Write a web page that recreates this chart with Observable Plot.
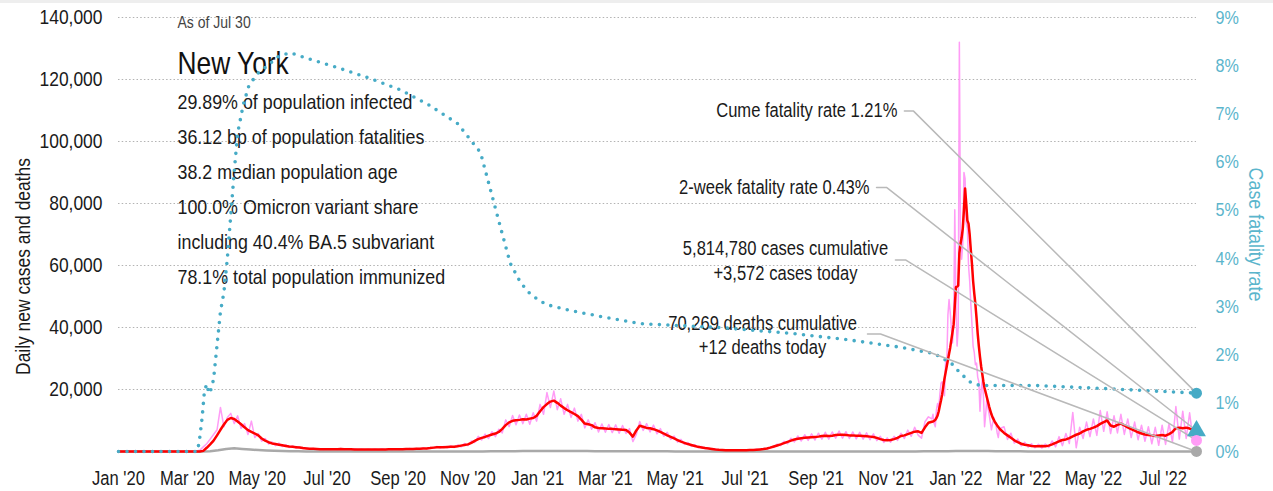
<!DOCTYPE html>
<html><head><meta charset="utf-8">
<script src="https://cdn.jsdelivr.net/npm/d3@7"></script>
<script src="https://cdn.jsdelivr.net/npm/@observablehq/plot@0.6"></script>
<style>
html,body{margin:0;padding:0;background:#fff;}
#band{height:3px;background:#eeeeee;}
#chart svg{display:block;}
</style></head><body>
<div id="band"></div>
<div id="chart"></div>
<script>
// ---------- DATA ----------
const START_UTC = Date.UTC(2020, 0, 1);
const LAST_DAY = 941; // Jul 30 2022

// daily new cases (pink) and 7-day average (red), sampled every 3 days from day 59 (Feb 29 2020)
const GRID_START = 59, GRID_STEP = 3;
const red7 = [
0,0,0,0,20,200,1200,2300,3500,5200,
7000,8700,10200,10800,10500,9700,8800,7800,6900,6300,
5800,5200,4200,3500,3000,2600,2400,2200,2000,1800,
1600,1500,1400,1300,1100,1000,900,850,800,750,
720,700,700,720,750,780,760,730,700,680,
650,640,630,620,630,640,650,660,680,690,
700,720,740,760,780,800,820,850,900,950,
1000,1100,1250,1350,1400,1400,1450,1500,1550,1700,
1900,2100,2300,2800,3400,4000,4400,4700,5100,5500,
5800,6300,7300,8500,9400,9900,10100,10200,10400,10300,
10600,10800,11500,13000,14300,15300,16100,16400,15700,14800,
14000,13300,12700,12100,11400,10300,9000,8800,8500,7800,
7600,7500,7400,7300,7300,7200,7100,7000,6900,6100,
4800,6800,8300,8000,7600,7500,7200,6800,6300,5800,
5200,4700,4200,3700,3200,2800,2400,2100,1800,1500,
1300,1100,950,800,650,550,480,430,400,380,
370,380,400,420,450,500,580,680,800,950,
1250,1600,1950,2300,2700,3100,3500,3850,4100,4300,
4400,4500,4600,4700,4800,5000,5100,5000,5100,5300,
5400,5400,5300,5200,5200,5100,5100,5000,4900,4800,
4700,4400,4000,3700,3600,3700,4000,4400,5000,5200,
5600,6000,6400,6500,6000,7800,9300,9600,10200,13000,
18000,25000,31000,38000,49000,60000,69000,80000,70000,57000,
44000,31000,22500,17500,13500,10500,8500,7000,6000,5200,
4400,3600,3000,2500,2200,2000,1800,1700,1700,1800,
1700,1900,2300,2800,3300,3700,3900,4300,4900,5400,
5800,6500,7000,7300,7700,8200,8900,9500,10000,8400,
8000,8600,9000,8400,7800,7200,6700,6200,5800,5500,
5300,5200,5000,5200,5300,5100,5600,6300,7500,7700,
7500,7700,7400,6900,6200
];
const pinkDaily = [
0,5,20,150,400,1500,2500,4000,5500,7000,
14200,8000,11000,12300,9000,11500,7500,9000,5500,9800,
4500,5800,3300,4200,2400,3100,1900,2700,1600,2200,
1300,1800,1100,1500,900,1200,750,1000,650,900,
600,850,600,850,650,950,650,850,600,800,
550,750,550,720,540,760,560,780,580,800,
600,850,620,900,650,950,700,1000,750,1100,
850,1300,1050,1600,1150,1650,1200,1800,1300,2100,
1500,2600,1900,3400,2900,4900,3700,5600,4200,6400,
4800,7200,6000,10200,8000,11600,8600,11800,9000,12000,
8800,12500,9800,15200,12000,19000,14200,19500,13500,17000,
12000,15200,11000,14000,9800,12000,7600,10200,7200,9300,
6300,8900,6200,8700,6100,8600,5900,8400,5800,7400,
3200,5500,9700,6800,9000,6300,8500,5700,7400,4900,
6200,3900,5000,3000,3900,2300,2900,1700,2200,1200,
1600,900,1150,650,800,450,580,350,480,320,
440,310,480,350,540,410,700,560,980,780,
1500,1300,2400,1900,3300,2500,4300,3100,5000,3400,
5400,3600,5700,3700,5900,4000,6200,4000,6300,4300,
6600,4300,6400,4200,6300,4100,6200,4000,6000,3800,
5700,3500,4900,2900,4400,3000,4900,3600,5900,4200,
6900,4900,7800,5300,4300,9600,11200,12000,12500,16000,
22000,30000,36000,45000,78000,132000,67000,90000,73000,48000,
45000,28000,25000,13000,23000,8000,12000,5000,8000,3900,
5900,2700,4000,1800,3000,1400,2500,1200,2300,1100,
2400,1300,3400,1500,4800,1900,5800,2600,12600,1200,
7800,4200,9500,4800,10500,5200,13200,6500,12800,5800,
11500,6000,12000,5500,10500,4500,9500,3800,8500,3300,
8000,2500,7800,2000,8500,2300,9000,3000,14500,4000,
13000,4200,12500,3500,3572
];
// Omicron surge read day by day, from day 710 (Dec 11 2021)
const SURGE_START = 710;
const redSurge = [
9600,9700,9900,10200,10800,11600,13000,14800,16500,18500,
21000,23500,25500,27500,29500,31500,33500,36000,38500,41000,
47000,53000,53200,53500,64000,67000,69000,72000,78000,84800,
80000,74500,73500,70000,65000,60500,55000,51000,47500,43000,
38000,34000,30500,27500,25000,22500,20500,19000,17500,16000,
14500,13200,12000,11000,10300,9500,9000,8400,7900,7400,
7000
];
const pinkSurge = [
10500,12000,9000,8000,13500,15500,14000,18500,22000,22500,
21000,18000,29000,28000,44000,49000,45000,40000,35000,41000,
78000,48000,34000,40000,132000,69000,62000,67000,90000,88000,
73500,72000,60000,55000,47700,41000,34000,32000,28000,28500,
24000,22500,13000,20000,23000,18000,8000,12000,17000,14000,
12000,9500,7000,9000,11000,9000,8500,6000,4500,7500,
7500
];
// daily deaths, weekly samples from day 3
const DEATH_START = 3, DEATH_STEP = 7;
const deaths = [
0,0,0,0,0,0,0,0,0,0,
6,70,380,820,1050,820,640,470,320,210,
140,95,60,40,28,18,12,10,9,8,
7,7,6,6,7,7,8,9,10,12,
14,16,20,25,32,40,55,70,90,110,
130,150,170,185,190,180,165,150,130,115,
100,90,85,80,75,70,65,55,45,35,
28,22,16,12,9,7,6,6,6,7,
8,10,13,17,22,28,33,36,38,39,
38,36,34,31,28,27,28,30,35,40,
48,60,75,95,130,170,200,190,160,120,
85,60,42,30,22,16,12,10,10,12,
15,18,20,22,24,25,24,22,18,16,
15,16,18,17,12
];
// cumulative case fatality rate (%)
const cfrDayOffsets = [0,69,71,73,75,77,79,81,83,86,89,92,95,98,101,104,109,114,122,130,140,150,165,190,218,246,270,296,316,325,334,342,351,360,373,395,421,456,525,587,636,683,712,727,735,744,752,799,857,916,941];
const cfrPct = [0,0,0.3,0.7,1.25,1.4,1.2,1.3,1.5,2.2,2.9,3.3,4.0,4.9,5.8,6.6,7.2,7.6,7.85,8.0,8.2,8.27,8.15,7.97,7.75,7.5,7.2,6.8,6.2,5.4,4.6,3.9,3.5,3.25,3.05,2.92,2.8,2.65,2.57,2.45,2.32,2.16,2.03,1.83,1.62,1.43,1.37,1.37,1.31,1.24,1.21];

// latest values
const cumeFatality = 1.21, twoWeekFatality = 0.43, casesToday = 3572, deathsToday = 12;

// ticks
const xTickDates = ["2020-01-01","2020-03-01","2020-05-01","2020-07-01","2020-09-01","2020-11-01","2021-01-01","2021-03-01","2021-05-01","2021-07-01","2021-09-01","2021-11-01","2022-01-01","2022-03-01","2022-05-01","2022-07-01"];
const leftTicks = [20000,40000,60000,80000,100000,120000,140000];
const rightTicksPct = [0,1,2,3,4,5,6,7,8,9];

// texts
const infoHeader = "As of Jul 30";
const infoTitle = "New York";
const infoLines = ["29.89% of population infected","36.12 bp of population fatalities","38.2 median population age","100.0% Omicron variant share","including 40.4% BA.5 subvariant","78.1% total population immunized"];
const annoTexts = ["Cume fatality rate 1.21%","2-week fatality rate 0.43%","5,814,780 cases cumulative\n+3,572 cases today","70,269 deaths cumulative\n+12 deaths today"];

// ---------- BUILD ----------
const dayDate = n => new Date(START_UTC + n * 864e5);
const Y_MAX = 140000, PCT_MAX = 9;
const toLeft = p => p * Y_MAX / PCT_MAX;

const caseRows = [{date: dayDate(0), red: 0, pink: 0}];
red7.forEach((v, i) => {
  const d = GRID_START + GRID_STEP * i;
  if (d >= SURGE_START && d < SURGE_START + redSurge.length) return;
  caseRows.push({date: dayDate(d), red: v, pink: pinkDaily[i]});
});
redSurge.forEach((v, j) => caseRows.push({date: dayDate(SURGE_START + j), red: v, pink: pinkSurge[j]}));
caseRows.sort((a, b) => a.date - b.date);

const deathRows = [{date: dayDate(0), v: 0}].concat(deaths.map((v, i) => ({date: dayDate(DEATH_START + DEATH_STEP * i), v})));
const cfrRows = cfrDayOffsets.map((d, i) => ({date: dayDate(d), v: toLeft(cfrPct[i])}));

const endDate = dayDate(LAST_DAY);
const endValues = [toLeft(cumeFatality), toLeft(twoWeekFatality), casesToday, deathsToday];

// annotation placement (data coordinates)
const annoLayout = [
  {day: 680, y: 109800, anchor: "end", lh: 1, lead: [686, 694]},
  {day: 655.6, y: 85200, anchor: "end", lh: 1, lead: [661.7, 670.4]},
  {day: 582.2, y: 61800, anchor: "middle", lh: 1.28, lead: [678.2, 687]},
  {day: 562.2, y: 37900, anchor: "middle", lh: 1.25, lead: [653.8, 665.2]}
];
const leaderRows = [];
annoLayout.forEach((a, k) => {
  leaderRows.push({k, date: dayDate(a.lead[0]), v: a.y});
  leaderRows.push({k, date: dayDate(a.lead[1]), v: a.y});
  leaderRows.push({k, date: endDate, v: endValues[k]});
});

const FONT = "'Liberation Sans',Arial,Helvetica,sans-serif";
const NARROW = 0.85; // horizontal condensing of all text
const TEAL = "#46abc6", TEAL_TXT = "#5bb5cc", PINK = "#ff9cf6", GREY = "#a9a9a9", INK = "#1a1a1a";

const annoMarks = annoLayout.map((a, k) => Plot.text([annoTexts[k]], {
  x: () => dayDate(a.day), y: () => a.y, text: d => d,
  textAnchor: a.anchor, lineAnchor: "middle", lineHeight: a.lh, fontSize: 19.5, fill: INK
}));

const infoMarks = [
  Plot.text([infoHeader], {frameAnchor: "top-left", dx: 59, dy: 10, text: d => d, lineAnchor: "bottom", textAnchor: "start", fontSize: 16.5, fill: "#444"}),
  Plot.text([infoTitle], {frameAnchor: "top-left", dx: 59, dy: 56, text: d => d, lineAnchor: "bottom", textAnchor: "start", fontSize: 31, fill: "#111"}),
  ...infoLines.map((t, i) => Plot.text([t], {frameAnchor: "top-left", dx: 59, dy: 91 + 35 * i, text: d => d, lineAnchor: "bottom", textAnchor: "start", fontSize: 21, fill: INK}))
];

const chart = Plot.plot({
  width: 1273, height: 488,
  marginTop: 14, marginBottom: 40, marginLeft: 118, marginRight: 77,
  style: {fontFamily: FONT, fontSize: "20px", color: INK, background: "#fff", overflow: "visible"},
  x: {type: "utc", domain: [dayDate(0), endDate]},
  y: {domain: [0, Y_MAX]},
  marks: [
    Plot.ruleY(leftTicks, {stroke: "#b3b3b3", strokeDasharray: "1.5 2.2", strokeWidth: 1.1}),
    Plot.axisX({ticks: xTickDates.map(s => new Date(s)), tickFormat: d3.utcFormat("%b '%y"), tickSize: 0, tickPadding: 20, label: null, fill: INK, fontSize: 19.5}),
    Plot.axisY({ticks: leftTicks, tickFormat: d3.format(","), tickSize: 0, tickPadding: 16, label: null, fill: INK, fontSize: 20.5}),
    Plot.axisY({anchor: "right", ticks: rightTicksPct.map(toLeft), tickFormat: v => Math.round(v * PCT_MAX / Y_MAX) + "%", tickSize: 0, tickPadding: 19, label: null, fill: TEAL_TXT, fontSize: 19}),
    Plot.text(["Daily new cases and deaths"], {frameAnchor: "left", dx: -95, dy: 32, rotate: -90, text: d => d, textAnchor: "middle", lineAnchor: "middle", fontSize: 20.5, fill: INK}),
    Plot.text(["Case fatality rate"], {frameAnchor: "right", dx: 59, rotate: 90, text: d => d, textAnchor: "middle", lineAnchor: "middle", fontSize: 21, fill: TEAL_TXT}),
    ...infoMarks,
    ...annoMarks,
    Plot.line(caseRows, {x: "date", y: "pink", stroke: PINK, strokeWidth: 1.5}),
    Plot.line(deathRows, {x: "date", y: "v", stroke: GREY, strokeWidth: 2.5}),
    Plot.line(caseRows, {x: "date", y: "red", stroke: "#ff0000", strokeWidth: 2.5}),
    Plot.line(cfrRows, {x: "date", y: "v", stroke: TEAL, strokeWidth: 3.6, strokeDasharray: "0 8.5", strokeLinecap: "round"}),
    Plot.line(leaderRows, {x: "date", y: "v", z: "k", stroke: "#b9b9b9", strokeWidth: 1.5}),
    Plot.dot([endDate], {x: d => d, y: () => endValues[0], r: 5.5, fill: TEAL, stroke: "none"}),
    Plot.dot([endDate], {x: d => d, y: () => endValues[1], r: 7, symbol: "triangle", fill: TEAL, stroke: "none"}),
    Plot.dot([endDate], {x: d => d, y: () => endValues[2], r: 5.5, fill: PINK, stroke: "none"}),
    Plot.dot([endDate], {x: d => d, y: () => endValues[3], r: 5.5, fill: GREY, stroke: "none"})
  ]
});
// condense every text horizontally (narrow face not installed)
chart.querySelectorAll("text").forEach(t => {
  const tr = t.getAttribute("transform") || "";
  t.setAttribute("transform", (tr + ` scale(${NARROW},1)`).trim());
});
document.getElementById("chart").appendChild(chart);
</script></body></html>
